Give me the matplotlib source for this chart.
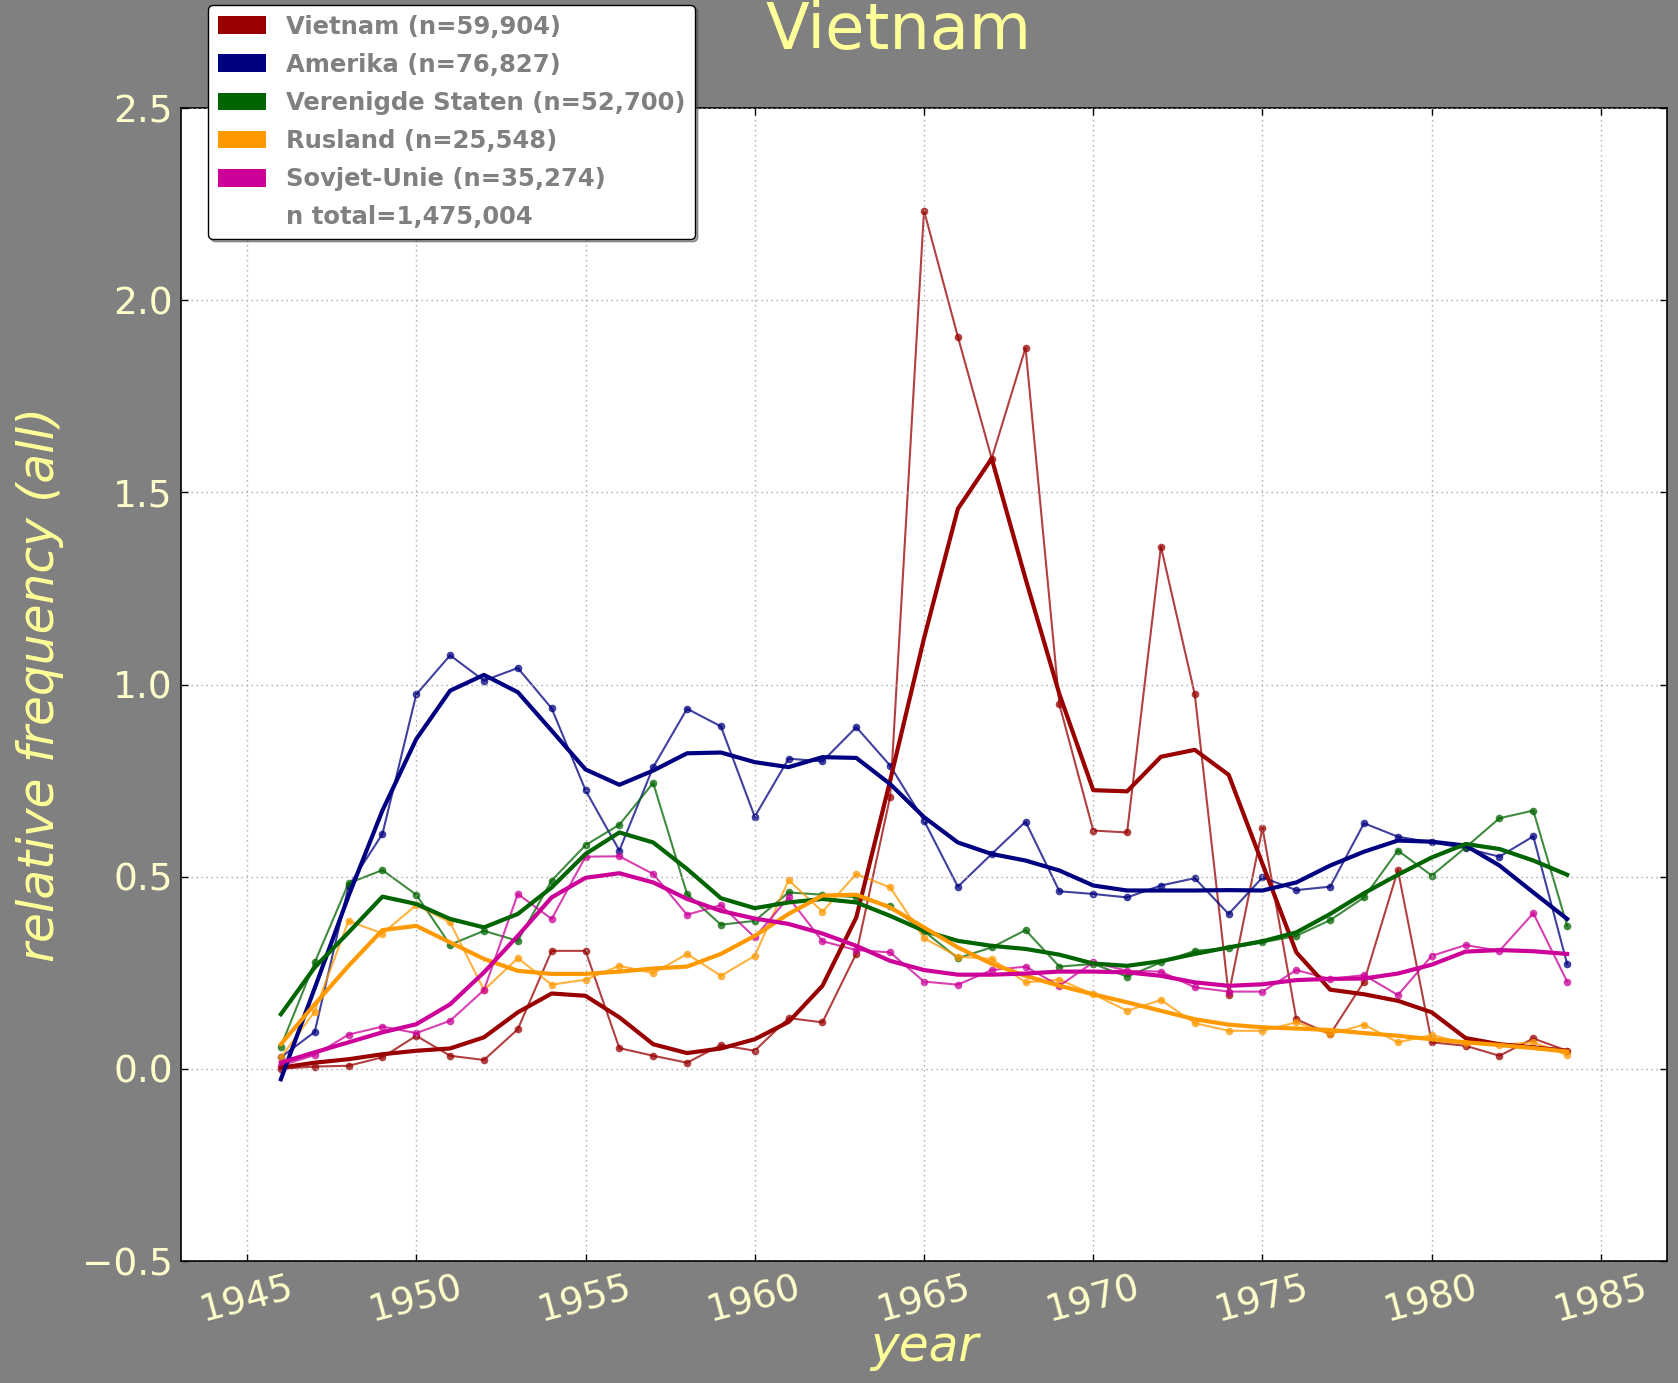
import matplotlib
matplotlib.use("Agg")
import matplotlib.pyplot as plt
from matplotlib.patches import Rectangle

years = list(range(1946, 1985))

# raw yearly values
vietnam_raw = [0.0, 0.006, 0.008, 0.03, 0.086, 0.034, 0.023, 0.103, 0.307, 0.307,
               0.054, 0.034, 0.016, 0.062, 0.047, 0.132, 0.121, 0.30, 0.708, 2.233,
               1.905, 1.588, 1.876, 0.948, 0.62, 0.615, 1.359, 0.974, 0.193, 0.627,
               0.129, 0.09, 0.227, 0.517, 0.069, 0.06, 0.034, 0.079, 0.047]
amerika_raw = [0.03, 0.096, 0.475, 0.611, 0.974, 1.076, 1.010, 1.043, 0.938, 0.725,
               0.568, 0.785, 0.937, 0.891, 0.656, 0.807, 0.80, 0.889, 0.789, 0.646,
               0.474, 0.559, 0.643, 0.462, 0.455, 0.446, 0.477, 0.496, 0.403, 0.498,
               0.465, 0.474, 0.639, 0.604, 0.589, 0.574, 0.552, 0.605, 0.273]
vs_raw = [0.058, 0.277, 0.483, 0.517, 0.453, 0.323, 0.359, 0.333, 0.49, 0.582,
          0.635, 0.744, 0.455, 0.375, 0.385, 0.459, 0.453, 0.446, 0.424, 0.358,
          0.288, 0.316, 0.361, 0.266, 0.273, 0.24, 0.277, 0.307, 0.314, 0.329,
          0.346, 0.387, 0.446, 0.568, 0.503, 0.576, 0.652, 0.672, 0.372]
rusland_raw = [0.03, 0.149, 0.385, 0.352, 0.426, 0.381, 0.205, 0.288, 0.219, 0.232,
               0.268, 0.249, 0.299, 0.242, 0.294, 0.491, 0.409, 0.507, 0.472, 0.340,
               0.292, 0.286, 0.225, 0.232, 0.194, 0.151, 0.179, 0.119, 0.099, 0.099,
               0.121, 0.09, 0.115, 0.069, 0.088, 0.066, 0.062, 0.069, 0.036]
sovjet_raw = [0.008, 0.036, 0.089, 0.110, 0.093, 0.125, 0.205, 0.455, 0.39, 0.552,
              0.553, 0.507, 0.401, 0.426, 0.342, 0.446, 0.332, 0.309, 0.303, 0.227,
              0.219, 0.257, 0.266, 0.216, 0.277, 0.255, 0.253, 0.212, 0.201, 0.201,
              0.257, 0.234, 0.244, 0.192, 0.294, 0.322, 0.307, 0.405, 0.227]

# smoothed values
vietnam_smooth = [0.003, 0.016, 0.025, 0.038, 0.047, 0.053, 0.082, 0.147, 0.196, 0.19,
                  0.134, 0.064, 0.041, 0.053, 0.077, 0.122, 0.216, 0.394, 0.75, 1.12,
                  1.457, 1.588, 1.275, 0.975, 0.725, 0.722, 0.812, 0.83, 0.765, 0.533,
                  0.303, 0.206, 0.194, 0.177, 0.147, 0.08, 0.064, 0.056, 0.047]
amerika_smooth = [-0.027, 0.21, 0.45, 0.672, 0.858, 0.984, 1.025, 0.980, 0.88, 0.779,
                  0.739, 0.776, 0.821, 0.823, 0.798, 0.785, 0.811, 0.809, 0.741, 0.655,
                  0.589, 0.559, 0.542, 0.516, 0.477, 0.464, 0.464, 0.464, 0.465, 0.464,
                  0.485, 0.529, 0.565, 0.594, 0.591, 0.581, 0.529, 0.459, 0.39]
vs_smooth = [0.142, 0.264, 0.355, 0.448, 0.429, 0.39, 0.368, 0.403, 0.472, 0.559,
             0.615, 0.589, 0.52, 0.444, 0.418, 0.433, 0.442, 0.433, 0.398, 0.359,
             0.333, 0.32, 0.312, 0.297, 0.274, 0.268, 0.28, 0.299, 0.316, 0.332,
             0.355, 0.403, 0.457, 0.505, 0.55, 0.585, 0.572, 0.542, 0.505]
rusland_smooth = [0.064, 0.168, 0.268, 0.361, 0.372, 0.329, 0.286, 0.255, 0.247, 0.247,
                  0.253, 0.261, 0.266, 0.299, 0.346, 0.403, 0.451, 0.453, 0.42, 0.368,
                  0.316, 0.273, 0.242, 0.216, 0.194, 0.173, 0.151, 0.129, 0.115, 0.108,
                  0.105, 0.101, 0.093, 0.086, 0.077, 0.069, 0.062, 0.054, 0.045]
sovjet_smooth = [0.016, 0.043, 0.069, 0.095, 0.116, 0.168, 0.251, 0.346, 0.446, 0.497,
                 0.509, 0.485, 0.442, 0.411, 0.391, 0.377, 0.352, 0.320, 0.281, 0.257,
                 0.245, 0.245, 0.248, 0.253, 0.253, 0.251, 0.242, 0.225, 0.216, 0.22,
                 0.231, 0.234, 0.235, 0.248, 0.271, 0.305, 0.309, 0.306, 0.299]

labels = ["Vietnam (n=59,904)", "Amerika (n=76,827)", "Verenigde Staten (n=52,700)",
          "Rusland (n=25,548)", "Sovjet-Unie (n=35,274)"]
total_label = "n total=1,475,004"
colors = ["#990000", "#000080", "#006400", "#ff9900", "#cc0099"]
raws = [vietnam_raw, amerika_raw, vs_raw, rusland_raw, sovjet_raw]
smooths = [vietnam_smooth, amerika_smooth, vs_smooth, rusland_smooth, sovjet_smooth]

title_col = "#ffff99"
tick_col = "#ffffcc"

fig = plt.figure(figsize=(16.78, 13.83), dpi=100, facecolor="#808080")
ax = fig.add_axes([181/1678, 1-1261/1383, (1667-181)/1678, (1261-108)/1383])
ax.set_facecolor("white")

for raw, sm, c in zip(raws, smooths, colors):
    ax.plot(years, raw, color=c, lw=1.5, alpha=0.75, marker="o", markersize=5.5,
            markeredgewidth=0, zorder=2)
    ax.plot(years, sm, color=c, lw=3.0, zorder=3)

ax.set_xlim(1943.05, 1986.95)
ax.set_ylim(-0.5, 2.5)
ax.set_xticks(range(1945, 1986, 5))
ax.set_yticks([-0.5, 0.0, 0.5, 1.0, 1.5, 2.0, 2.5])

ax.grid(True, color="#a8a8a8", linestyle=(0, (1, 2.6)), linewidth=1.0)
ax.set_axisbelow(False)
for s in ax.spines.values():
    s.set_color("black")
    s.set_linewidth(1.2)

ax.tick_params(axis="both", direction="in", length=5, width=1, colors="black",
               labelcolor=tick_col, labelsize=27, pad=6, top=True, right=True)
for lab in ax.get_xticklabels():
    lab.set_rotation(15)
    lab.set_ha("center")

ax.set_xlabel("year", fontsize=35, style="italic", color=title_col)
ax.xaxis.label.set_va("baseline")
ax.xaxis.set_label_coords(0.5, -0.0867)
ax.set_ylabel("relative frequency (all)", fontsize=35, style="italic", color=title_col)
ax.yaxis.label.set_va("baseline")
ax.yaxis.set_label_coords(-0.0857, 0.5)

fig.text(898/1678, 1-49/1383, "Vietnam", fontsize=46, color=title_col,
         ha="center", va="baseline")

handles = [Rectangle((0, 0), 1, 1, facecolor=c, edgecolor="none") for c in colors]
handles.append(Rectangle((0, 0), 1, 1, facecolor="none", edgecolor="none"))
leg = ax.legend(handles, labels + [total_label], loc="upper left",
                bbox_to_anchor=(208/1678, 1-5/1383), bbox_transform=fig.transFigure,
                borderaxespad=0, labelspacing=0.58, handlelength=2.0, handleheight=0.75,
                fancybox=True, shadow=True, framealpha=1,
                prop={"size": 17.5, "weight": "bold"})
leg.get_frame().set_edgecolor("black")
leg.get_frame().set_linewidth(1.0)
for t in leg.get_texts():
    t.set_color("#808080")

fig.savefig("out.png", dpi=100, facecolor=fig.get_facecolor())
